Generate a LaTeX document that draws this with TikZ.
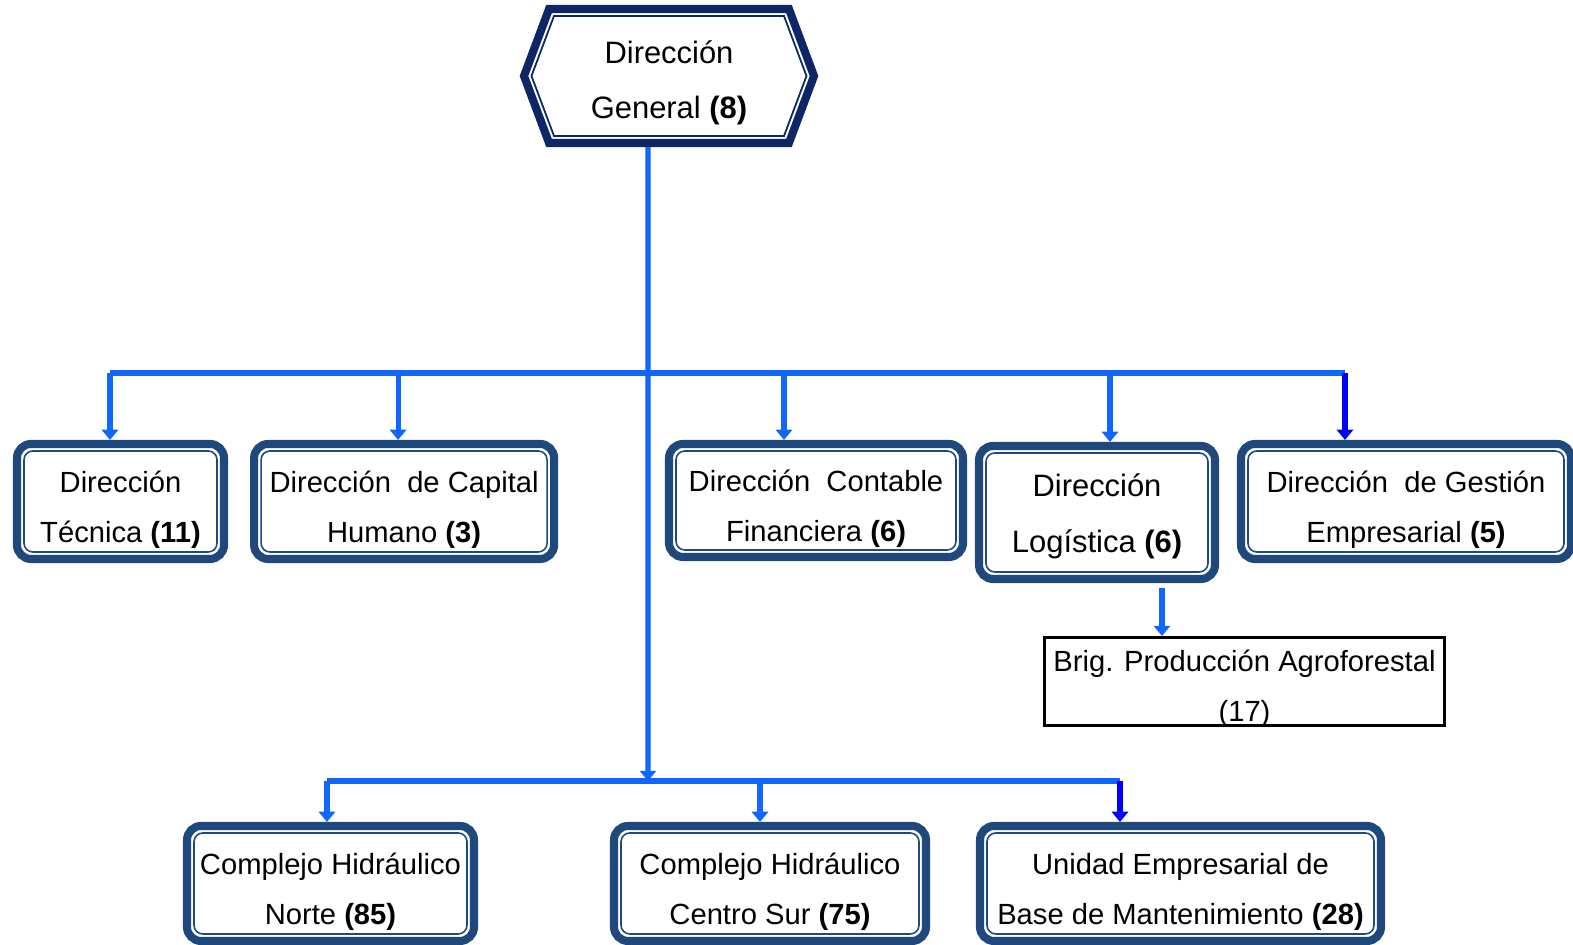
\documentclass[tikz,border=0pt]{standalone}
\usepackage{fontspec}
\setmainfont{Liberation Sans}
\usetikzlibrary{positioning, arrows.meta, shapes.symbols}
\definecolor{navy}{RGB}{31,73,125}
\definecolor{deepnavy}{RGB}{14,38,102}
\definecolor{linkblue}{RGB}{17,102,255}

\begin{document}
\begin{tikzpicture}[
  font=\fontsize{8.3}{14.2}\selectfont, >={Triangle[width=4.6pt,length=2.9pt]},
  dirbox/.style={draw=navy, line width=2.3pt, rounded corners=4pt, fill=white, align=center, inner sep=0pt, minimum height=1.15cm,
    text height=25.2pt, text depth=1.8pt,
    path picture={\draw[navy, line width=0.45pt, rounded corners=2.5pt]
      ([shift={(0.07,0.07)}]path picture bounding box.south west) rectangle
      ([shift={(-0.07,-0.07)}]path picture bounding box.north east);}},
  hexbox/.style={signal, signal to=east and west, signal pointer angle=139, draw=deepnavy, line width=2.3pt, fill=white,
    minimum width=2.9cm, minimum height=1.34cm, align=center, inner sep=0pt, font=\fontsize{8.8}{15.6}\selectfont,
    text height=26pt, text depth=1.8pt,
    path picture={\draw[deepnavy, line width=0.5pt]
      ([xshift=0.075cm]path picture bounding box.west) -- ([shift={(0.30,-0.07)}]path picture bounding box.north west)
      -- ([shift={(-0.30,-0.07)}]path picture bounding box.north east) -- ([xshift=-0.075cm]path picture bounding box.east)
      -- ([shift={(-0.30,0.07)}]path picture bounding box.south east) -- ([shift={(0.30,0.07)}]path picture bounding box.south west) -- cycle;}},
  brigbox/.style={draw, line width=0.85pt, fill=white, align=center, inner sep=0pt, minimum width=4cm, minimum height=0.88cm,
    text height=22.5pt, text depth=0pt},
  link/.style={draw=linkblue, line width=1.45pt},
  linkdark/.style={draw=blue, line width=1.45pt},
]
  \useasboundingbox (0,0) rectangle (15.73,9.45);

  \node[hexbox] (dg) at (6.69,8.69) {Dirección\\General \textbf{(8)}};

  % direcciones
  \node[dirbox, minimum width=2.07cm] (dt) at (1.205,4.435) {Dirección\\Técnica \textbf{(11)}};
  \node[dirbox, minimum width=3cm, right=0.22 of dt] (dch) {Dirección~~de Capital\\Humano \textbf{(3)}};
  \node[dirbox, minimum width=2.94cm, minimum height=1.13cm] (dcf) at (8.16,4.445) {Dirección~~Contable\\Financiera \textbf{(6)}};
  \node[dirbox, minimum width=2.36cm, minimum height=1.33cm, font=\fontsize{8.8}{15.9}\selectfont, text height=24.6pt] (dl) at (10.97,4.325) {Dirección\\Logística \textbf{(6)}};
  \node[dirbox, minimum width=3.3cm] (dge) at (14.06,4.435) {Dirección~~de Gestión\\Empresarial \textbf{(5)}};
  \node[brigbox] (bpa) at (12.445,2.635) {Brig. Producción Agroforestal\\(17)};

  % unidades de base
  \node[dirbox, minimum width=2.87cm] (chn) at (3.305,0.615) {Complejo Hidráulico\\Norte \textbf{(85)}};
  \node[dirbox, minimum width=3.12cm] (chcs) at (7.70,0.615) {Complejo Hidráulico\\Centro Sur \textbf{(75)}};
  \node[dirbox, minimum width=4.01cm] (uebm) at (11.805,0.615) {Unidad Empresarial de\\Base de Mantenimiento \textbf{(28)}};

  \coordinate (tb) at (6.48,5.72);
  \coordinate (bb) at (6.48,1.64);

  \draw[link, ->] ([xshift=-2.1mm]dg.south) -- (bb);
  \draw[link] ([xshift=-1.05mm]dt.north |- tb) -- ([xshift=-6.1mm]dge.north |- tb);
  \foreach \n/\s in {dt/-1.05mm, dch/-0.6mm, dcf/-3.2mm, dl/1.3mm}
    \draw[link, ->] ([xshift=\s]\n.north |- tb) -- ([xshift=\s]\n.north);
  \draw[linkdark, ->] ([xshift=-6.1mm]dge.north |- tb) -- ([xshift=-6.1mm]dge.north);
  \draw[link, ->] ([xshift=6.5mm, yshift=-0.5mm]dl.south) -- ([xshift=6.5mm]dl.south |- bpa.north);

  \draw[link] ([xshift=-0.35mm]chn.north |- bb) -- ([xshift=-6.05mm]uebm.north |- bb);
  \draw[link, ->] ([xshift=-0.35mm]chn.north |- bb) -- ([xshift=-0.35mm]chn.north);
  \draw[link, ->] ([xshift=-1mm]chcs.north |- bb) -- ([xshift=-1mm]chcs.north);
  \draw[linkdark, ->] ([xshift=-6.05mm]uebm.north |- bb) -- ([xshift=-6.05mm]uebm.north);
\end{tikzpicture}
\end{document}
